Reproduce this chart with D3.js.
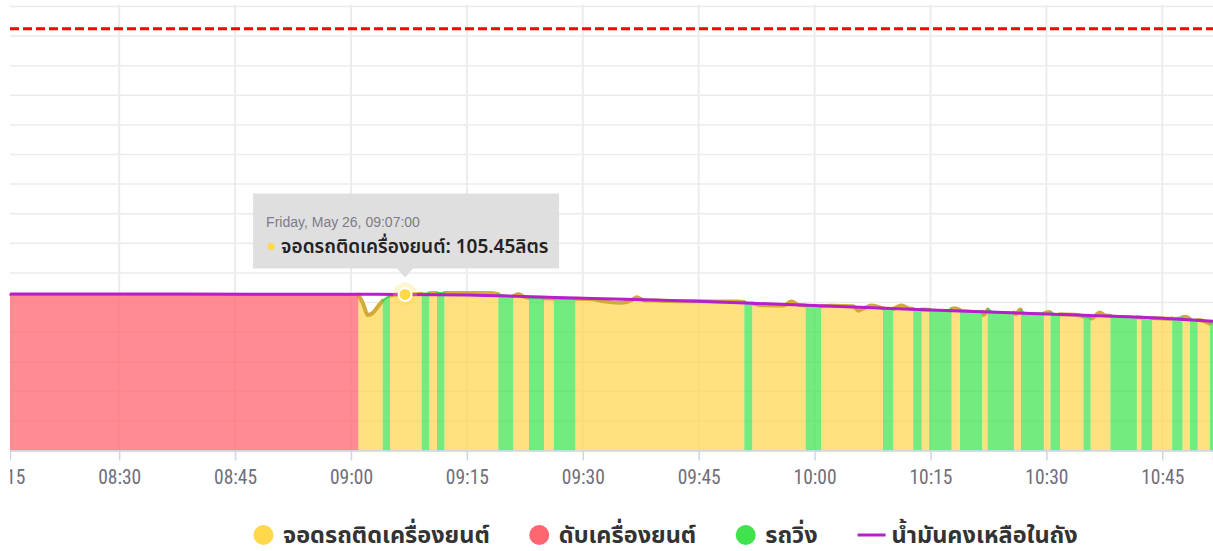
<!DOCTYPE html>
<html><head><meta charset="utf-8">
<script src="https://cdn.jsdelivr.net/npm/d3@7"></script>
<style>
html,body{margin:0;padding:0;background:#fff;}
svg{display:block;}
</style></head><body>
<svg id="chart" width="1213" height="551"></svg>
<script>
// ---------- data ----------
const chartDate = "2023-05-26";
const seriesNames = ["จอดรถติดเครื่องยนต์", "ดับเครื่องยนต์", "รถวิ่ง", "น้ำมันคงเหลือในถัง"];
const stateKeys = ["idle", "off", "move"];
const unitLabel = "ลิตร";

const segmentBounds = ["08:15:52","09:00:57","09:04:06","09:05:03","09:09:09","09:10:08","09:11:08","09:12:05",
  "09:19:04","09:21:00","09:23:02","09:24:59","09:26:16","09:29:02","09:50:54","09:51:56","09:58:51","10:00:50",
  "10:08:51","10:10:11","10:12:46","10:13:52","10:14:50","10:17:44","10:18:49","10:21:42","10:22:24","10:25:48",
  "10:26:43","10:29:41","10:30:32","10:31:46","10:34:48","10:35:44","10:38:17","10:41:43","10:42:17","10:43:42",
  "10:46:17","10:47:37","10:48:35","10:49:35","10:51:10","10:51:34"];
const segmentStates = ["off","idle","move","idle","move","idle","move","idle","move","idle","move","idle","move",
  "idle","move","idle","move","idle","move","idle","move","idle","move","idle","move","idle","move","idle","move",
  "idle","move","idle","move","idle","move","idle","move","idle","move","idle","move","idle","move"];

const sensorTimes = ["08:15:52","09:00:57","09:01:35","09:02:10","09:02:50","09:03:40","09:04:06","09:05:03","09:06:00",
  "09:07:00","09:08:30","09:10:00","09:12:00","09:15:00","09:18:00","09:19:04","09:20:00","09:21:00","09:21:40",
  "09:22:20","09:23:02","09:25:00","09:27:00","09:29:02","09:31:00","09:33:00","09:35:00","09:36:20","09:37:00",
  "09:37:50","09:40:00","09:45:00","09:50:00","09:50:54","09:51:56","09:53:00","09:56:00","09:57:00","09:58:00",
  "09:58:51","10:00:50","10:02:00","10:05:00","10:05:40","10:06:30","10:07:20","10:08:51","10:10:11","10:11:16",
  "10:12:10","10:13:00","10:15:00","10:17:00","10:18:08","10:18:49","10:20:00","10:21:42","10:21:52","10:22:26",
  "10:23:00","10:25:48","10:26:04","10:26:37","10:27:10","10:29:41","10:30:25","10:31:00","10:34:00","10:35:49",
  "10:36:54","10:37:40","10:40:00","10:43:00","10:46:00","10:48:06","10:48:40","10:50:00","10:51:14","10:51:34"];
const sensorValues = [105.3,105.3,99.0,91.5,93.0,98.5,101.2,104.8,105.3,
  105.45,105.6,106.2,106.5,106.5,106.4,105.6,104.6,104.3,105.8,
  104.0,103.2,102.8,102.6,102.5,102.3,100.6,99.8,101.6,103.6,
  101.6,101.2,100.8,100.6,100.3,99.4,98.2,97.9,100.6,98.3,
  98.0,97.4,97.8,97.4,94.5,96.3,97.9,96.0,95.6,98.0,
  96.0,95.5,95.1,94.8,96.1,94.9,94.4,93.8,91.5,95.4,
  93.8,93.2,92.1,95.3,93.1,92.7,93.6,92.3,91.6,89.2,
  93.2,91.2,90.5,89.7,89.1,90.3,88.6,88.0,85.6,86.5];

const fuelTimes = ["08:15:52","09:01:00","09:15:00","09:30:00","09:45:00","10:00:00","10:15:00","10:30:00","10:45:00","10:51:34"];
const fuelValues = [105.7,105.6,105.0,102.9,100.9,97.9,95.0,92.2,89.3,87.3];

const tankCapacity = 285;
const xTickLabels = ["08:15","08:30","08:45","09:00","09:15","09:30","09:45","10:00","10:15","10:30","10:45"];
const yTickValues = [0,20,40,60,80,100,120,140,160,180,200,220,240,260,280,300];
const tooltipTime = "09:07:00";
const tooltipValue = 105.45;
const tooltipHeader = "Friday, May 26, 09:07:00";

// ---------- setup ----------
const parse = s => d3.timeParse("%Y-%m-%d %H:%M:%S")(chartDate + " " + (s.length === 5 ? s + ":00" : s));
const svg = d3.select("#chart");
const plotLeft = 10, plotRight = 1213, plotTop = 6.5, plotBottom = 450.5;

const x = d3.scaleTime()
  .domain([parse(segmentBounds[0]), parse(segmentBounds[segmentBounds.length - 1])])
  .range([plotLeft, plotRight]);
const y = d3.scaleLinear().domain([0, 300]).range([plotBottom, plotTop]);

const colors = {
  idle: {fill: "#ffd54f", line: "#d2aa38", legend: "#ffd84c"},
  off:  {fill: "#ff5f68", line: "#ff5f68", legend: "#ff6670"},
  move: {fill: "#3fe34c", line: "#45d251", legend: "#40e34b"}
};
const fuelColor = "#b71fcc";

const sensor = sensorTimes.map((t, i) => ({t: parse(t), v: sensorValues[i]}));
function sensorAt(t) {
  for (let i = 0; i < sensor.length - 1; i++) {
    const a = sensor[i], b = sensor[i + 1];
    if (t >= a.t && t <= b.t) {
      const f = (t - a.t) / ((b.t - a.t) || 1);
      return a.v + f * (b.v - a.v);
    }
  }
  return sensor[sensor.length - 1].v;
}

// gridlines
const grid = svg.append("g");
grid.selectAll("line.h").data(yTickValues).join("line")
  .attr("x1", plotLeft).attr("x2", plotRight)
  .attr("y1", d => y(d)).attr("y2", d => y(d))
  .attr("stroke", "#ebebeb").attr("stroke-width", 1.5);
const tickDates = xTickLabels.map(parse);
grid.selectAll("line.v").data(tickDates.filter(d => x(d) >= plotLeft)).join("line")
  .attr("x1", d => x(d)).attr("x2", d => x(d))
  .attr("y1", plotTop - 2).attr("y2", plotBottom)
  .attr("stroke", "#ececec").attr("stroke-width", 2);

// segments
const segments = segmentStates.map((s, i) => {
  const t0 = parse(segmentBounds[i]), t1 = parse(segmentBounds[i + 1]);
  const pts = [{t: t0, v: sensorAt(t0)}];
  sensor.forEach(p => { if (p.t > t0 && p.t < t1) pts.push(p); });
  pts.push({t: t1, v: sensorAt(t1)});
  return {state: s, pts};
});

const area = d3.area().x(d => x(d.t)).y0(y(0)).y1(d => y(d.v)).curve(d3.curveMonotoneX);
const line = d3.line().x(d => x(d.t)).y(d => y(d.v)).curve(d3.curveMonotoneX);

const seriesG = svg.append("g");
stateKeys.forEach(k => {
  const g = seriesG.append("g");
  const segs = segments.filter(s => s.state === k);
  g.selectAll("path.a").data(segs).join("path")
    .attr("d", d => area(d.pts)).attr("fill", colors[k].fill).attr("fill-opacity", 0.72);
  g.selectAll("path.l").data(segs).join("path")
    .attr("d", d => line(d.pts)).attr("fill", "none")
    .attr("stroke", colors[k].line).attr("stroke-width", k === "idle" ? 4 : 2)
    .attr("stroke-linejoin", "round").attr("stroke-linecap", "round");
});

// fuel line
const fuel = fuelTimes.map((t, i) => ({t: parse(t), v: fuelValues[i]}));
svg.append("path").attr("d", line(fuel)).attr("fill", "none")
  .attr("stroke", fuelColor).attr("stroke-width", 3);

// tank capacity plot line
svg.append("line").attr("x1", plotLeft).attr("x2", plotRight)
  .attr("y1", y(tankCapacity)).attr("y2", y(tankCapacity))
  .attr("stroke", "#ff0000").attr("stroke-width", 3).attr("stroke-dasharray", "9,4");

// x axis
svg.append("defs").append("clipPath").attr("id", "axclip")
  .append("rect").attr("x", plotLeft).attr("y", 0).attr("width", 1213 - plotLeft).attr("height", 551);
const xAxis = d3.axisBottom(x).tickValues(tickDates).tickFormat(d3.timeFormat("%H:%M")).tickSize(10).tickPadding(10);
const axG = svg.append("g").attr("clip-path", "url(#axclip)").append("g")
  .attr("transform", `translate(0,${plotBottom})`).call(xAxis);
axG.select(".domain").attr("stroke", "#ccd6eb").attr("stroke-width", 1.5);
axG.selectAll(".tick line").attr("stroke", "#ccd6eb").attr("stroke-width", 1.5);
axG.selectAll(".tick text").attr("fill", "#6e6e7c")
  .style("font-family", "'Liberation Sans Narrow', 'Roboto Condensed', 'Liberation Sans', sans-serif")
  .style("font-size", "19.5px");

// hover marker
const mt = parse(tooltipTime), mx = x(mt), my = y(tooltipValue);
svg.append("circle").attr("cx", mx).attr("cy", my).attr("r", 12).attr("fill", colors.idle.legend).attr("fill-opacity", 0.25);
svg.append("circle").attr("cx", mx).attr("cy", my).attr("r", 6.5).attr("fill", colors.idle.legend)
  .attr("stroke", "#fff").attr("stroke-width", 2);

// tooltip
const tip = svg.append("g").attr("transform", `translate(${mx},${my})`);
tip.append("path")
  .attr("d", "M-152,-101 H154 V-26 H8 L0,-17 L-8,-26 H-152 Z")
  .attr("fill", "#dcdcdc").attr("fill-opacity", 0.92);
tip.append("text").attr("x", -139).attr("y", -67).text(tooltipHeader)
  .attr("fill", "#7c7c88").style("font-family", "'Liberation Sans Narrow', 'Liberation Sans', sans-serif").style("font-size", "14px");
tip.append("circle").attr("cx", -134).attr("cy", -48).attr("r", 3.5).attr("fill", colors.idle.legend);
tip.append("text").attr("x", -124).attr("y", -41)
  .text(seriesNames[0] + ": " + tooltipValue.toFixed(2) + unitLabel)
  .attr("fill", "#222").style("font-family", "'Noto Sans Thai', 'Noto Sans', sans-serif")
  .style("font-size", "19px").style("font-weight", "600");

// legend
const legend = svg.append("g").attr("transform", "translate(0,535)");
const legendItems = [
  {name: seriesNames[0], color: colors.idle.legend, type: "circle"},
  {name: seriesNames[1], color: colors.off.legend, type: "circle"},
  {name: seriesNames[2], color: colors.move.legend, type: "circle"},
  {name: seriesNames[3], color: fuelColor, type: "line"}
];
let lx = 254;
legendItems.forEach(it => {
  const g = legend.append("g");
  let tx;
  if (it.type === "circle") {
    g.append("circle").attr("cx", lx + 9.5).attr("cy", 0).attr("r", 10).attr("fill", it.color);
    tx = lx + 29;
  } else {
    g.append("line").attr("x1", lx).attr("x2", lx + 28).attr("y1", 0).attr("y2", 0)
      .attr("stroke", it.color).attr("stroke-width", 3);
    tx = lx + 34;
  }
  const t = g.append("text").attr("x", tx).attr("y", 8).text(it.name)
    .attr("fill", "#333").style("font-family", "'Noto Sans Thai', 'Noto Sans', sans-serif")
    .style("font-size", "23.5px").style("font-weight", "700");
  lx = tx + t.node().getComputedTextLength() + 40;
});
</script>
</body></html>
